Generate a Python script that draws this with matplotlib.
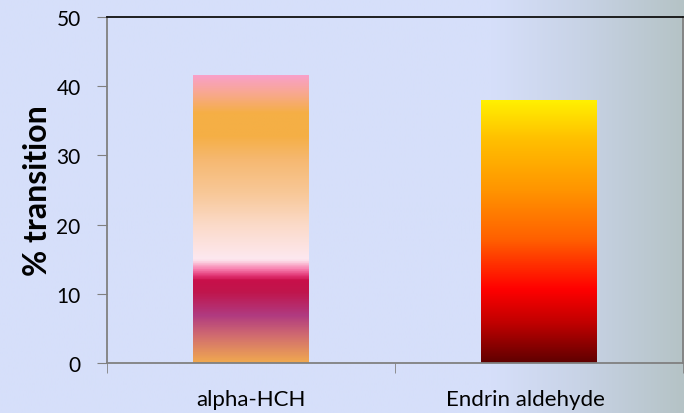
import matplotlib.pyplot as plt
import matplotlib.transforms as mtransforms
import numpy as np
from matplotlib.colors import LinearSegmentedColormap

# data
compounds = ["alpha-HCH", "Endrin aldehyde"]
transition = [41.6, 38.0]

# vertical colour ramps for each bar, (fraction of bar height, colour)
BAR_RAMPS = [
    [(0.0, "#F0A850"), (0.095, "#D06A70"), (0.164, "#B03A80"), (0.245, "#C0154C"),
     (0.286, "#C8104A"), (0.30, "#E03070"), (0.326, "#F880B0"), (0.35, "#FCD0E0"),
     (0.36, "#FDE8F0"), (0.48, "#FBDAC8"), (0.59, "#F8C898"), (0.71, "#F6B870"),
     (0.79, "#F5AF45"), (0.87, "#F5AF45"), (0.94, "#F8A890"), (1.0, "#F9A0C8")],
    [(0.0, "#600000"), (0.15, "#C00000"), (0.28, "#FF0000"), (0.47, "#FF6000"),
     (0.66, "#FF9500"), (0.855, "#FFC000"), (1.0, "#FFF000")],
]

plt.rcParams['font.family'] = ['Lato', 'DejaVu Sans']

fig = plt.figure(figsize=(6.84, 4.14), dpi=100)

# figure background: pale blue fading to grey-blue on the right
bg = fig.add_axes([0, 0, 1, 1], zorder=-10)
bg_cmap = LinearSegmentedColormap.from_list(
    "bg", [(0.0, "#D6DFFA"), (0.72, "#D6DFFA"), (0.85, "#C8D3E6"), (1.0, "#B5C3C6")])
bg.imshow(np.linspace(0, 1, 512)[None, :], aspect='auto', cmap=bg_cmap,
          extent=[0, 1, 0, 1])
bg.set_axis_off()

ax = fig.add_axes([0.1564, 0.1208, 0.8421, 0.8357])
ax.patch.set_visible(False)

x = np.arange(len(compounds))
bars = ax.bar(x, transition, width=0.4, color='none', edgecolor='none')

for bar, ramp in zip(bars, BAR_RAMPS):
    cmap = LinearSegmentedColormap.from_list("ramp", ramp)
    x0, y0 = bar.get_x(), bar.get_y()
    ax.imshow(np.linspace(0, 1, 400)[:, None], aspect='auto', cmap=cmap,
              origin='lower', extent=[x0, x0 + bar.get_width(), y0, y0 + bar.get_height()],
              zorder=2)

ax.set_xlim(-0.5, len(compounds) - 0.5)
ax.set_ylim(0, 50)
ax.set_yticks(range(0, 51, 10))
ax.set_xticks(x)
ax.set_xticklabels(compounds, fontsize=16)
ax.set_xticks(np.arange(-0.5, len(compounds), 1.0), minor=True)
ax.tick_params(axis='x', which='major', length=0, pad=19)
ax.tick_params(axis='x', which='minor', length=7, direction='out', color='#808080')
ax.tick_params(axis='y', length=7, direction='out', color='#808080', labelsize=15, pad=12)

# the long label sits a little left of its bar
lbl = ax.get_xticklabels()[1]
lbl.set_transform(lbl.get_transform() + mtransforms.ScaledTranslation(-0.14, 0, fig.dpi_scale_trans))

for side in ['left', 'bottom', 'right']:
    ax.spines[side].set_color('#808080')
    ax.spines[side].set_linewidth(1.3)
ax.spines['top'].set_color('#101010')
ax.spines['top'].set_linewidth(1.3)

ax.set_ylabel("% transition", fontsize=23, fontweight='bold', labelpad=3)

fig.savefig("out.png", dpi=100)
